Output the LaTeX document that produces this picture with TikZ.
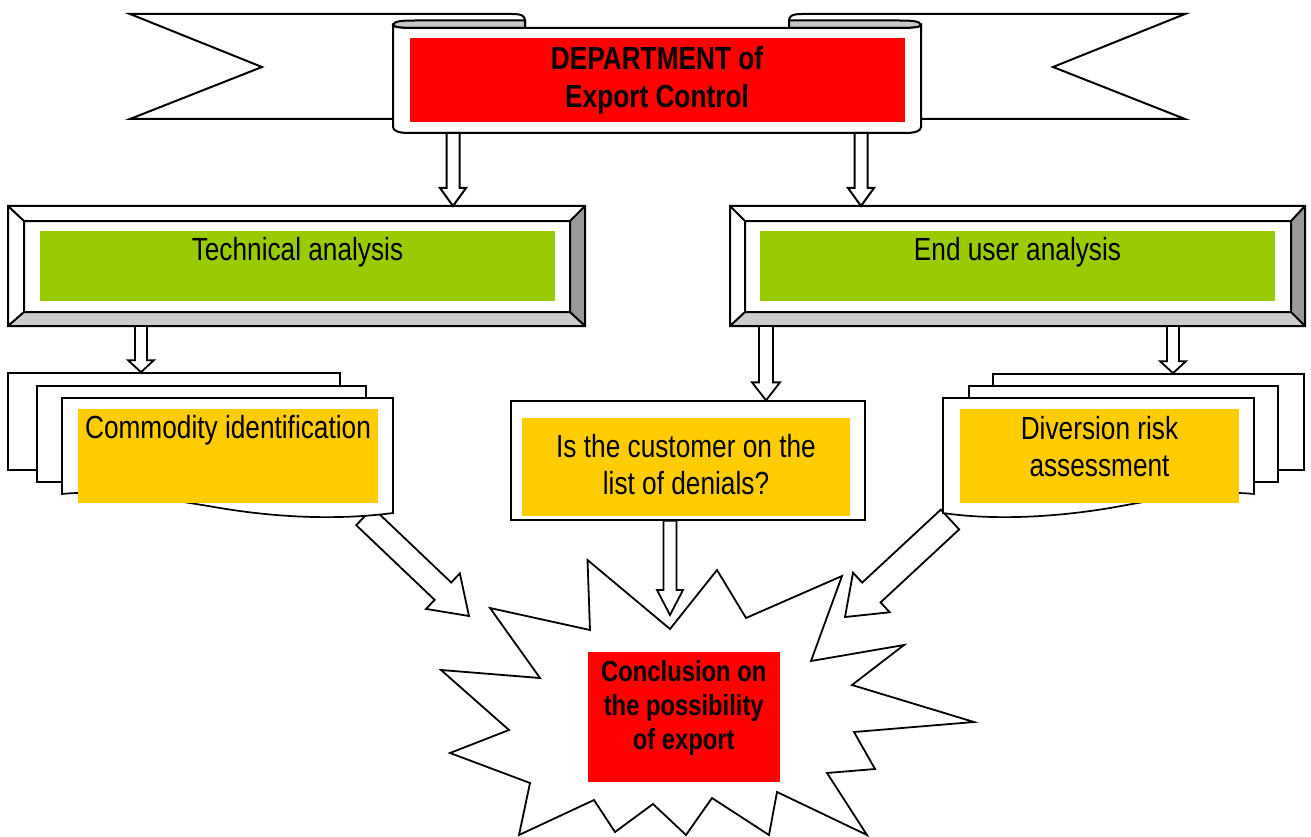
\documentclass[tikz,border=0pt]{standalone}
\usepackage{fontspec}
\setmainfont{Liberation Sans}[FakeStretch=0.82]
\usetikzlibrary{calc}
\definecolor{redc}{HTML}{FF0000}
\definecolor{greenc}{HTML}{99CC00}
\definecolor{yellowc}{HTML}{FFCC00}
\definecolor{darkbev}{HTML}{999999}
\definecolor{lightbev}{HTML}{CCCCCC}
\definecolor{foldc}{HTML}{C8C8C8}
% block arrow: #2 start, #3 end, #4 half shaft, #5 half head, #6 head length
\newcommand\blkarrow[6][]{%
  \coordinate (ba-q) at ($(#3)!#6pt!(#2)$);
  \draw[blk,#1] ($(#2)!#4pt!90:(#3)$) -- ($(ba-q)!#4pt!90:(#3)$) -- ($(ba-q)!#5pt!90:(#3)$) -- (#3)
    -- ($(ba-q)!#5pt!-90:(#3)$) -- ($(ba-q)!#4pt!-90:(#3)$) -- ($(#2)!#4pt!-90:(#3)$) -- cycle;}
\newcommand\bevelbox[8]{%
  \fill[white] (#1,#2) -- (#3,#2) -- (#7,#6) -- (#5,#6) -- cycle;
  \fill[white] (#1,#2) -- (#5,#6) -- (#5,#8) -- (#1,#4) -- cycle;
  \fill[darkbev] (#3,#2) -- (#3,#4) -- (#7,#8) -- (#7,#6) -- cycle;
  \fill[lightbev] (#1,#4) -- (#3,#4) -- (#7,#8) -- (#5,#8) -- cycle;
  \fill[white] (#5,#6) rectangle (#7,#8);
  \draw[ln] (#1,#2) rectangle (#3,#4) (#5,#6) rectangle (#7,#8)
    (#1,#2) -- (#5,#6) (#3,#2) -- (#7,#6) (#1,#4) -- (#5,#8) (#3,#4) -- (#7,#8);}
\begin{document}
\begin{tikzpicture}[x=1pt,y=-1pt,line join=miter,
  ln/.style={draw=black,line width=2},
  docln/.style={draw=black,line width=1.7},
  blk/.style={draw=black,fill=white,line width=1.8},
  txt/.style={font=\fontsize{32}{36.5}\selectfont,align=center,inner sep=0,anchor=base},
  btxt/.style={font=\bfseries\fontsize{32}{38}\selectfont,align=center,inner sep=0,anchor=base},
  ctxt/.style={font=\bfseries\fontsize{29}{34}\selectfont,align=center,inner sep=0,anchor=base},
  colbox/.style={inner sep=0,outer sep=0,draw=none},
  area/.style={inner sep=0,outer sep=0,draw=none,fill=none}]
\fill[white] (0,0) rectangle (1311,837);
\useasboundingbox (0,0) rectangle (1311,837);

% ---------- banner ----------
\node[area,minimum width=528,minimum height=106] (scroll) at (657,80) {};
\draw[ln,fill=white] (130,14) -- (512,14) .. controls (522,14) and (525,16) .. (525,21) -- (525,119) -- (130,119) -- (262,67) -- cycle;
\draw[ln,fill=white] (1185,14) -- (802,14) .. controls (792,14) and (789,16) .. (789,21) -- (789,119) -- (1185,119) -- (1053,67) -- cycle;
\draw[ln,fill=foldc] (393,25) .. controls (394,21) and (402,20.5) .. (415,20.5) -- (525,20.5) -- (525,28) -- (415,28) .. controls (402,28) and (394,27.5) .. (393,25) -- cycle;
\draw[ln,fill=foldc] (921,25) .. controls (920,21) and (912,20.5) .. (899,20.5) -- (789,20.5) -- (789,28) -- (899,28) .. controls (912,28) and (920,27.5) .. (921,25) -- cycle;
\draw[ln,fill=white] (393,25) .. controls (394,27.5) and (402,28) .. (415,28) -- (899,28) .. controls (912,28) and (920,27.5) .. (921,25)
  -- (921,127) .. controls (921,131) and (915,133) .. (905,133) -- (409,133) .. controls (399,133) and (393,131) .. (393,127) -- cycle;
\node[colbox,fill=redc,minimum width=495,minimum height=84] (dept) at (657.5,80) {};
\node[btxt] (deptt) at (657,108) {DEPARTMENT of\\Export Control};

% ---------- analysis boxes ----------
\node[area,minimum width=577,minimum height=120] (techbox) at (296.5,266) {};
\bevelbox{8}{206}{585}{326}{24}{221}{570}{312}
\node[colbox,fill=greenc,minimum width=515,minimum height=70] (tech) at (297.5,266) {};
\node[txt] (techt) at (297.5,260) {Technical analysis};

\node[area,minimum width=575,minimum height=120] (userbox) at (1017.5,266) {};
\bevelbox{730}{206}{1305}{326}{745}{221}{1291}{312}
\node[colbox,fill=greenc,minimum width=515,minimum height=70] (user) at (1017.5,266) {};
\node[txt] (usert) at (1017.5,260) {End user analysis};

% ---------- diagonal arrows (behind documents) ----------
\coordinate (dlS) at (364.5,516.5);
\coordinate (dlE) at (469,616);
\coordinate (drS) at (950,519.5);
\coordinate (drE) at (845,617);
\blkarrow{dlS}{dlE}{12}{24.5}{36}
\blkarrow{drS}{drE}{13.5}{27}{36}

% ---------- commodity documents ----------
\node[docln,fill=white,minimum width=332,minimum height=97,inner sep=0] (comback) at (174,421.5) {};
\node[docln,fill=white,minimum width=329,minimum height=96,inner sep=0] (commid) at (201.5,434) {};
\draw[docln,fill=white] (62,398) -- (393,398) -- (393,513) .. controls (340,520) and (280,518) .. (220,508) .. controls (150,496) and (100,490) .. (62,494) -- cycle;
\node[colbox,fill=yellowc,minimum width=300,minimum height=94] (com) at (228,456) {};
\node[txt] (comt) at (228,438) {Commodity identification};

% ---------- diversion documents ----------
\node[docln,fill=white,minimum width=311,minimum height=96,inner sep=0] (divback) at (1148.5,422) {};
\node[docln,fill=white,minimum width=309,minimum height=96,inner sep=0] (divmid) at (1123.5,434) {};
\draw[docln,fill=white] (1254,398) -- (943,398) -- (943,513) .. controls (990,520) and (1050,518) .. (1110,508) .. controls (1170,497) and (1215,490) .. (1254,494) -- cycle;
\node[colbox,fill=yellowc,minimum width=279,minimum height=94] (div) at (1099.5,456) {};
\node[txt] (divt) at (1099.5,476) {Diversion risk\\assessment};

% ---------- denial list ----------
\node[draw=black,line width=1.3,fill=white,minimum width=354,minimum height=119,inner sep=0] (cbox) at (688,460.5) {};
\node[colbox,fill=yellowc,minimum width=328,minimum height=98] (cust) at (686,467) {};
\node[txt] (custt) at (686,494) {Is the customer on the\\list of denials?};

% ---------- vertical arrows ----------
\coordinate (a1s) at (453,0 |- scroll.south);
\coordinate (a1e) at (453,0 |- techbox.north);
\coordinate (a2s) at (861,0 |- scroll.south);
\coordinate (a2e) at (861,0 |- userbox.north);
\coordinate (a3s) at (141,0 |- techbox.south);
\coordinate (a3e) at (141,0 |- comback.north);
\coordinate (a4s) at (766,0 |- userbox.south);
\coordinate (a4e) at (766,0 |- cbox.north);
\coordinate (a5s) at (1173,0 |- userbox.south);
\coordinate (a5e) at (1173,0 |- divback.north);
\coordinate (a6s) at (670,0 |- cbox.south);
\coordinate (a6e) at (670,615);
\blkarrow[line width=2]{a1s}{a1e}{6.5}{13}{18}
\blkarrow[line width=2]{a2s}{a2e}{6.5}{13}{18}
\blkarrow{a3s}{a3e}{6}{13}{12}
\blkarrow{a4s}{a4e}{7}{14}{18}
\blkarrow{a5s}{a5e}{6}{13}{12}
\blkarrow{a6s}{a6e}{6.5}{13}{25}

% ---------- conclusion star ----------
\draw[line width=1.8,fill=white] (587.5,560) -- (590,630) -- (490,608) -- (540,678) -- (441,670) -- (509,730) -- (450,753) -- (530,783)
  -- (519,835) -- (594,800) -- (615,832) -- (653,804) -- (686,835) -- (712,798) -- (769,835) -- (777,792) -- (867,835)
  -- (827,773) -- (875,769) -- (854,732) -- (974,722) -- (852,685) -- (904,645) -- (811,661) -- (842,576) -- (746,618)
  -- (717,570) -- (670,629) -- cycle;
\node[colbox,fill=redc,minimum width=192.5,minimum height=130] (concl) at (683.75,717) {};
\node[ctxt] (conclt) at (683.75,749) {Conclusion on\\the possibility\\of export};
\end{tikzpicture}
\end{document}
